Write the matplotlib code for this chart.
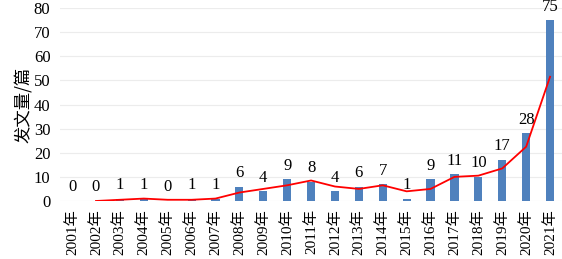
import numpy as np
import matplotlib.pyplot as plt

years = [f"{y}年" for y in range(2001, 2022)]
counts = [0, 0, 1, 1, 0, 1, 1, 6, 4, 9, 8, 4, 6, 7, 1, 9, 11, 10, 17, 28, 75]
# red trend line (starts at 2002)
trend = [0, 0.5, 1, 0.5, 0.5, 1, 3.5, 5, 6.5, 8.5, 6, 5, 6.5, 4, 5, 10, 10.5, 13.5, 22.5, 51.5]

plt.rcParams['font.family'] = ['Liberation Serif', 'Noto Sans CJK SC']

fig = plt.figure(figsize=(5.62, 2.59), dpi=100)
ax = fig.add_axes([0.107, 0.224, 0.893, 0.745])

x = np.arange(len(years))
ax.bar(x, counts, width=0.34, color='#4f81bd', zorder=2)
ax.plot(x[1:], trend, color='#ff0000', lw=1.3, zorder=3)

for xi, v in zip(x, counts):
    ax.annotate(str(v), (xi, v), xytext=(0, 4), textcoords='offset points',
                ha='center', va='bottom', fontsize=12)

ax.set_xlim(-0.5, len(years) - 0.5)
ax.set_ylim(0, 80)
ax.set_yticks(range(0, 81, 10))
ax.yaxis.grid(True, color='#ececec', lw=0.8, zorder=0)
ax.set_xticks(x)
ax.set_xticklabels(years, rotation=90, fontsize=11,
                   family=['Liberation Serif', 'Noto Sans CJK SC'])
ax.tick_params(axis='y', length=0, labelsize=12, pad=7)
ax.tick_params(axis='x', length=0, pad=6)
for s in ax.spines.values():
    s.set_visible(False)
ax.set_ylabel('发文量/篇', fontsize=12.5, family=['Noto Sans CJK SC'], labelpad=1)

fig.savefig('out.png', dpi=100)
